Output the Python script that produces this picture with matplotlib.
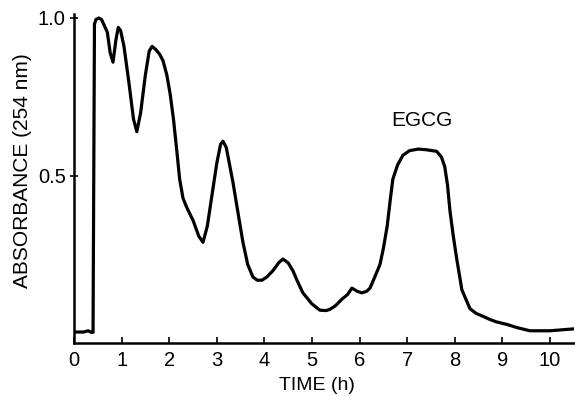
import matplotlib
matplotlib.use('Agg')
from matplotlib import pyplot as plt

matplotlib.rc('font', family=['Liberation Sans', 'DejaVu Sans'], size=13.5)

# chromatogram trace
time_h = [0, 0.2, 0.3, 0.36, 0.40, 0.43, 0.46, 0.52, 0.58, 0.64, 0.70, 0.76, 0.82,
          0.88, 0.93, 0.98, 1.05, 1.15, 1.25, 1.32, 1.40, 1.50, 1.58, 1.64, 1.72,
          1.80, 1.87, 1.95, 2.02, 2.09, 2.16, 2.22, 2.29, 2.37, 2.50, 2.62, 2.71,
          2.80, 2.90, 3.00, 3.08, 3.13, 3.20, 3.34, 3.45, 3.55, 3.65, 3.76, 3.85,
          3.95, 4.05, 4.18, 4.30, 4.39, 4.50, 4.60, 4.70, 4.81, 5.00, 5.17, 5.30,
          5.38, 5.50, 5.63, 5.75, 5.84, 5.95, 6.05, 6.15, 6.22, 6.32, 6.43, 6.50,
          6.58, 6.65, 6.70, 6.80, 6.91, 7.05, 7.23, 7.40, 7.62, 7.72, 7.79, 7.85,
          7.90, 7.97, 8.04, 8.15, 8.32, 8.45, 8.59, 8.75, 8.88, 9.10, 9.31, 9.58,
          10.0, 10.5]
absorbance = [0.006, 0.006, 0.01, 0.005, 0.005, 0.98, 0.995, 1.0, 0.995, 0.975, 0.955,
              0.89, 0.86, 0.93, 0.97, 0.96, 0.91, 0.80, 0.68, 0.64, 0.70, 0.82, 0.895,
              0.91, 0.90, 0.885, 0.865, 0.82, 0.76, 0.68, 0.58, 0.49, 0.43, 0.40, 0.36,
              0.31, 0.29, 0.34, 0.44, 0.54, 0.60, 0.61, 0.59, 0.48, 0.38, 0.29, 0.22,
              0.18, 0.17, 0.17, 0.18, 0.20, 0.225, 0.237, 0.225, 0.20, 0.165, 0.13,
              0.095, 0.075, 0.074, 0.078, 0.09, 0.11, 0.125, 0.145, 0.135, 0.13, 0.135,
              0.145, 0.18, 0.22, 0.27, 0.34, 0.43, 0.49, 0.535, 0.565, 0.58, 0.585,
              0.583, 0.578, 0.56, 0.53, 0.47, 0.39, 0.31, 0.24, 0.14, 0.08, 0.065,
              0.056, 0.045, 0.038, 0.03, 0.02, 0.01, 0.01, 0.016]

xticks = list(range(11))
yticks = [0.5, 1.0]

fig = plt.figure(figsize=(5.75, 3.96), dpi=100)
ax = fig.add_axes([0.1287, 0.134, 0.869, 0.831])

ax.plot(time_h, absorbance, color='black', lw=2.3, solid_joinstyle='round')
ax.text(7.3, 0.645, 'EGCG', ha='center', va='bottom', fontsize=15)

ax.set_xlim(0, 10.5)
ax.set_ylim(-0.0285, 1.013)
ax.set_xticks(xticks)
ax.set_yticks(yticks)
ax.set_yticklabels(['0.5', '1.0'])
ax.tick_params(direction='in', length=4, width=1.2, pad=6, labelsize=14.5)
ax.tick_params(axis='y', direction='inout', length=6, pad=3)

for s in ['top', 'right']:
    ax.spines[s].set_visible(False)
for s in ['left', 'bottom']:
    ax.spines[s].set_linewidth(1.8)

ax.set_xlabel('TIME (h)', fontsize=14)
ax.xaxis.set_label_coords(0.487, -0.105)
ax.set_ylabel('ABSORBANCE (254 nm)', fontsize=15)
ax.yaxis.set_label_coords(-0.085, 0.525)

fig.savefig('out.png', dpi=100)
